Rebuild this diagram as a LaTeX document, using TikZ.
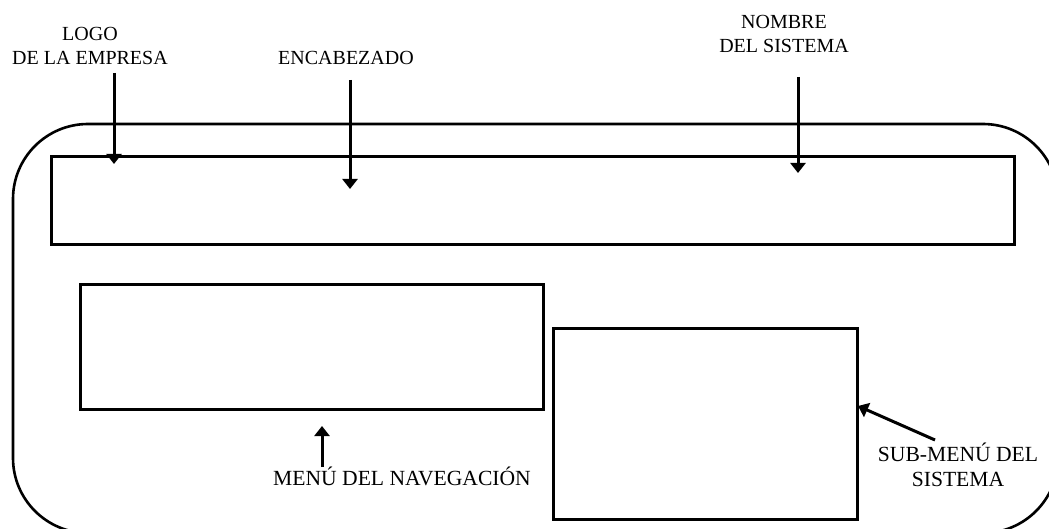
\documentclass[tikz,border=0pt]{standalone}
\usepackage{fontspec}
\setmainfont{Liberation Serif}
\usepackage{xcolor}
\usepackage{tikz}
\usetikzlibrary{arrows.meta}
\definecolor{inkmain}{HTML}{000000}
\tikzset{box/.style={draw=inkmain,line width=3pt,inner sep=0pt},
pointer/.style={-{Triangle[length=10pt,width=15pt]},line width=3pt,inkmain},
label/.style={align=center,inner sep=0pt,font=\fontsize{20}{24}\selectfont},
biglabel/.style={label,font=\fontsize{21.6}{25}\selectfont}}

\begin{document}
\begin{tikzpicture}[x=1pt,y=-1pt]
\useasboundingbox (0,0) rectangle (1049,529);
\node[box,line width=2.6pt,rounded corners=75pt,minimum width=1045pt,minimum height=409pt] (screen) at (535.5,328.5) {};
\node[box,minimum width=963pt,minimum height=88pt] (header) at (532.5,201) {};
\node[box,minimum width=463pt,minimum height=124pt] (menu) at (311.5,347) {};
\node[box,minimum width=304pt,minimum height=191pt] (submenu) at (705,423.5) {};
\node[label] (logo) at (90,45.5) {LOGO\\DE LA EMPRESA};
\node[label,anchor=base] (title) at (346,65) {ENCABEZADO};
\node[label] (sysname) at (784,33.5) {NOMBRE\\DEL SISTEMA};
\node[biglabel,anchor=base] (menutext) at (402,485) {MENÚ DEL NAVEGACIÓN};
\node[biglabel] (subtext) at (958,464.5) {SUB-MENÚ DEL\\SISTEMA};
\coordinate (logotail) at (114,73);
\coordinate (logotip) at (114,164);
\coordinate (titletail) at (350,80);
\coordinate (titletip) at (350,189);
\coordinate (sysnametail) at (798,77);
\coordinate (sysnametip) at (798,173);
\coordinate (menutail) at (322,467);
\coordinate (menutip) at (322,426);
\coordinate (subtail) at (935,440);
\coordinate (subtip) at (858,406);
\draw[pointer] (logotail)--(logotip);
\draw[pointer] (titletail)--(titletip);
\draw[pointer] (sysnametail)--(sysnametip);
\draw[pointer] (menutail)--(menutip);
\draw[pointer] (subtail)--(subtip);
\end{tikzpicture}
\end{document}
